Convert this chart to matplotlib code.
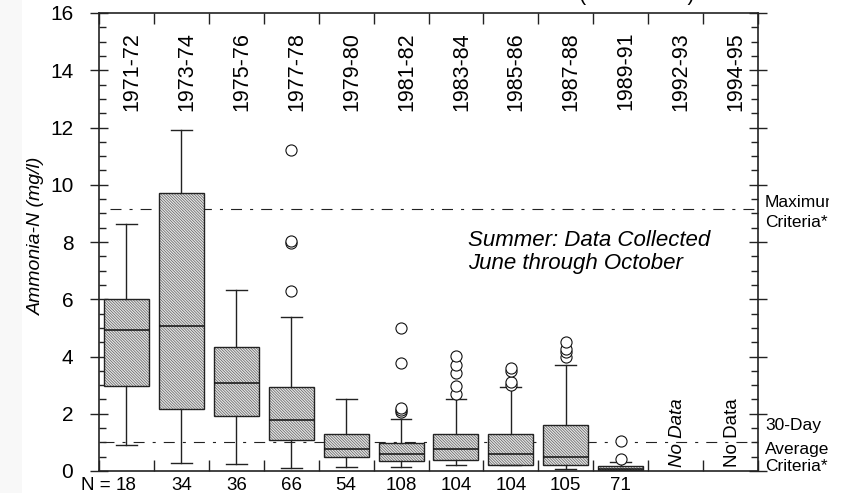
import matplotlib
matplotlib.use('Agg')
import matplotlib.pyplot as plt
from matplotlib.patches import PathPatch, Rectangle
from matplotlib.ticker import MultipleLocator
from matplotlib.transforms import Bbox
import numpy as np

plt.rcParams['font.family'] = ['Liberation Sans', 'DejaVu Sans']
plt.rcParams['hatch.linewidth'] = 0.5
plt.rcParams['lines.scale_dashes'] = False

# ---------------- data ----------------
periods = ['1971-72', '1973-74', '1975-76', '1977-78', '1979-80', '1981-82',
           '1983-84', '1985-86', '1987-88', '1989-91', '1992-93', '1994-95']
n_counts = ['18', '34', '36', '66', '54', '108', '104', '104', '105', '71', '', '']
whislo = [0.91, 0.29, 0.23, 0.09, 0.14, 0.14, 0.21, 0.20, 0.08, 0.02]
q1 = [2.98, 2.17, 1.93, 1.07, 0.49, 0.36, 0.37, 0.21, 0.21, 0.04]
med = [4.91, 5.07, 3.06, 1.77, 0.76, 0.59, 0.78, 0.59, 0.49, 0.08]
q3 = [6.00, 9.72, 4.32, 2.93, 1.30, 0.99, 1.30, 1.30, 1.60, 0.16]
whishi = [8.62, 11.91, 6.32, 5.39, 2.52, 1.83, 2.52, 2.92, 3.69, 0.32]
fliers = [[], [], [], [6.29, 7.95, 8.05, 11.21], [],
          [2.05, 2.12, 2.19, 3.77, 5.00],
          [2.68, 2.97, 3.41, 3.69, 4.02],
          [3.00, 3.11, 3.49, 3.61],
          [3.99, 4.15, 4.26, 4.51],
          [0.43, 1.04]]
no_data = ['No Data', 'No Data']
max_criteria = 9.16
avg_criteria = 1.0

# ---------------- figure ----------------
fig = plt.figure(figsize=(8.41, 4.93), dpi=100)
fig.patches.append(Rectangle((0, 0), 22 / 841, 1, transform=fig.transFigure,
                             facecolor='#f8f8f8', edgecolor='none', zorder=-10))
ax = fig.add_axes([99 / 841, 22 / 493, 659 / 841, 458 / 493])

positions = np.arange(1, len(periods) + 1)
stats = [dict(whislo=whislo[i], q1=q1[i], med=med[i], q3=q3[i],
              whishi=whishi[i], fliers=fliers[i], label=periods[i])
         for i in range(len(whislo))]

bp = ax.bxp(stats, positions=positions[:len(stats)], widths=0.82,
            patch_artist=True, showfliers=True, manage_ticks=False,
            capwidths=0.38,
            boxprops=dict(facecolor='#e6e6e6', edgecolor='#5e5e5e',
                          hatch='\\' * 12, linewidth=0, zorder=3),
            medianprops=dict(color='#111111', lw=1.1, zorder=3.3),
            whiskerprops=dict(color='#222222', lw=1.0, zorder=3),
            capprops=dict(color='#222222', lw=1.0, zorder=3),
            flierprops=dict(marker='o', markerfacecolor='white',
                            markeredgecolor='#111111', markersize=8,
                            markeredgewidth=0.8, zorder=3))
for b in bp['boxes']:
    ax.add_patch(PathPatch(b.get_path(), fill=False, edgecolor='#222222',
                           lw=1.0, zorder=3.2))

dashdot = (0, (7.9, 5.8, 2.2, 5.8))
ax.axhline(max_criteria, xmin=0.017, xmax=1, color='#222222', lw=0.8,
           ls=dashdot, zorder=1)
ax.axhline(avg_criteria, xmin=0.006, xmax=1, color='#222222', lw=0.8,
           ls=dashdot, zorder=1)

ax.set_xlim(0.5, 12.5)
ax.set_ylim(0, 16)

# x ticks: major at boundaries, minor (labels) at centres
ax.set_xticks(np.arange(0.5, len(periods) + 1, 1))
ax.set_xticklabels([])
ax.set_xticks(positions, labels=n_counts, minor=True)
ax.tick_params(axis='x', which='major', direction='in', length=8,
               top=True, bottom=True, width=1.0, color='#222222')
ax.tick_params(axis='x', which='minor', length=0, pad=4.5, labelsize=13.5)
ax.annotate('N =', xy=(0.72, 0), xycoords=ax.get_xaxis_transform(),
            xytext=(0, -4.5), textcoords='offset points',
            ha='right', va='top', fontsize=13.5)

# y ticks
ax.set_yticks(np.arange(0, 17, 2))
ax.yaxis.set_minor_locator(MultipleLocator(0.5))
ax.tick_params(axis='y', which='major', direction='inout', length=13,
               left=True, right=True, labelsize=15, pad=12, width=1.0,
               color='#222222')
ax.tick_params(axis='y', which='minor', direction='in', length=5,
               left=True, right=True, width=1.0, color='#222222')

for s in ax.spines.values():
    s.set_linewidth(1.2)
    s.set_color('#222222')

ax.set_ylabel('Ammonia-N (mg/l)', style='italic', fontsize=14)
ax.yaxis.set_label_coords(-0.082, 0.513)

# period labels at top
for p, lab in zip(positions, periods):
    ax.text(p + 0.1, 15.34, lab, rotation=90, ha='center', va='top',
            fontsize=15.5)

# No Data labels
ax.text(positions[10] + 0.04, 0.14, no_data[0], rotation=90, ha='center',
        va='bottom', fontsize=13.5, style='italic')
ax.text(positions[11] + 0.04, 0.14, no_data[1], rotation=90, ha='center',
        va='bottom', fontsize=13.5)

# annotation text
ax.text(7.22, 7.65, 'Summer: Data Collected\nJune through October',
        style='italic', fontsize=16, ha='left', va='center', linespacing=1.1)

# right side criteria labels
yt = ax.get_yaxis_transform()
t = ax.text(1.0106, 9.23, 'Maximum', transform=yt, fontsize=12.5,
            ha='left', va='baseline', clip_on=True)
t.set_clip_box(Bbox.from_extents(0, 0, 829, 493))
ax.text(1.0106, 8.52, 'Criteria*', transform=yt, fontsize=12.5,
        ha='left', va='baseline')
ax.text(1.0106, 1.43, '30-Day', transform=yt, fontsize=12.5,
        ha='left', va='baseline')
ax.text(1.0106, 0.59, 'Average', transform=yt, fontsize=12.5,
        ha='left', va='baseline')
ax.text(1.0106, 0.01, 'Criteria*', transform=yt, fontsize=12.5,
        ha='left', va='baseline')

# clipped title remnant at the very top (cut off in the reference too)
fig.text(637 / 841, 1.0, '(1971-1995)', ha='center', va='baseline',
         fontsize=15.5)

fig.savefig('out.png', dpi=100)
